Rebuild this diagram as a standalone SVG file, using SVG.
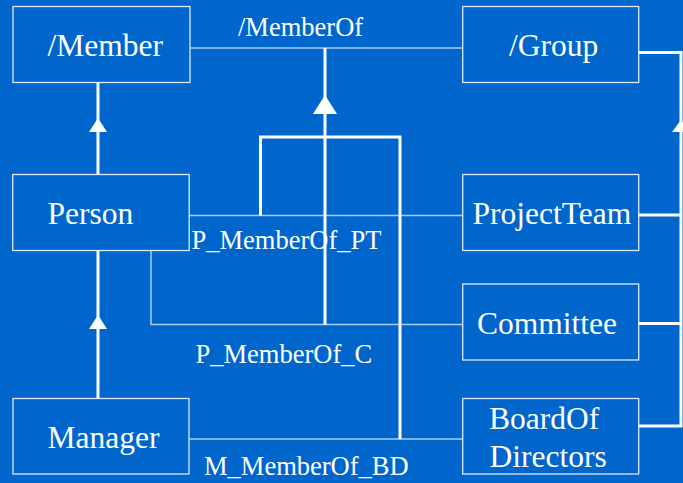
<svg xmlns="http://www.w3.org/2000/svg" width="683" height="483" viewBox="0 0 683 483">
  <style>
    .box { fill: none; stroke: #dce8f6; stroke-width: 1.3; }
    .assoc { fill: none; stroke: #a9cbf0; stroke-width: 1.5; }
    .gen { fill: none; stroke: #ffffff; stroke-width: 3; }
    .head { fill: #ffffff; stroke: none; }
  </style>
  <rect width="683" height="483" fill="#0066cc"/>

  <g id="connectors">
    <!-- associations -->
    <line class="assoc" x1="190" y1="48" x2="462" y2="48"/>
    <line class="assoc" x1="189" y1="215.5" x2="462" y2="215.5"/>
    <polyline class="assoc" points="151,250 151,324.5 462,324.5"/>
    <line class="assoc" x1="189" y1="439" x2="462" y2="439"/>

    <!-- association generalization tree -->
    <line class="gen" x1="325" y1="48" x2="325" y2="324.5"/>
    <polygon class="head" points="325,95 313,114 337,114"/>
    <polyline class="gen" points="260.5,215.5 260.5,137 400,137 400,439"/>

    <!-- class generalizations -->
    <line class="gen" x1="98" y1="83" x2="98" y2="174"/>
    <polygon class="head" points="98,118 89,132 107,132"/>
    <line class="gen" x1="98" y1="250" x2="98" y2="398"/>
    <polygon class="head" points="98,315 89,329 107,329"/>

    <!-- group generalization -->
    <polyline class="gen" points="638,52.5 681,52.5 681,426 638,426"/>
    <line class="gen" x1="638" y1="215" x2="681" y2="215"/>
    <line class="gen" x1="638" y1="323.5" x2="681" y2="323.5"/>
    <polygon class="head" points="681,120 672,132 690,132"/>

    <!-- role labels -->
    <text x="238" y="36" font-family="Liberation Serif" font-size="26.5" fill="#fff">/MemberOf</text>
    <text x="191.5" y="248.5" font-family="Liberation Serif" font-size="26.5" fill="#fff">P_MemberOf_PT</text>
    <text x="195.5" y="363" font-family="Liberation Serif" font-size="26.5" fill="#fff">P_MemberOf_C</text>
    <text x="204" y="475" font-family="Liberation Serif" font-size="26.5" fill="#fff">M_MemberOf_BD</text>
  </g>

  <g id="member">
    <rect class="box" x="13" y="6.5" width="177" height="76"/>
    <text x="47.5" y="56" font-family="Liberation Serif" font-size="31.5" fill="#fff">/Member</text>
  </g>
  <g id="person">
    <rect class="box" x="12.7" y="174.5" width="176.5" height="76"/>
    <text x="47.5" y="224" font-family="Liberation Serif" font-size="31.5" fill="#fff">Person</text>
  </g>
  <g id="manager">
    <rect class="box" x="13" y="398.5" width="176" height="75.5"/>
    <text x="47.5" y="447.5" font-family="Liberation Serif" font-size="31.5" fill="#fff">Manager</text>
  </g>
  <g id="group">
    <rect class="box" x="462.7" y="6.5" width="176" height="76"/>
    <text x="509" y="55.5" font-family="Liberation Serif" font-size="31.5" fill="#fff">/Group</text>
  </g>
  <g id="projectteam">
    <rect class="box" x="462.7" y="174.5" width="176" height="76"/>
    <text x="472.5" y="223.5" font-family="Liberation Serif" font-size="31.5" fill="#fff">ProjectTeam</text>
  </g>
  <g id="committee">
    <rect class="box" x="462.7" y="284" width="176" height="76"/>
    <text x="477" y="333.5" font-family="Liberation Serif" font-size="31.5" fill="#fff">Committee</text>
  </g>
  <g id="boardofdirectors">
    <rect class="box" x="462.7" y="398.5" width="176" height="75.5"/>
    <text x="489" y="428.5" font-family="Liberation Serif" font-size="31.5" fill="#fff">BoardOf</text>
    <text x="489.5" y="467" font-family="Liberation Serif" font-size="31.5" fill="#fff">Directors</text>
  </g>
</svg>
